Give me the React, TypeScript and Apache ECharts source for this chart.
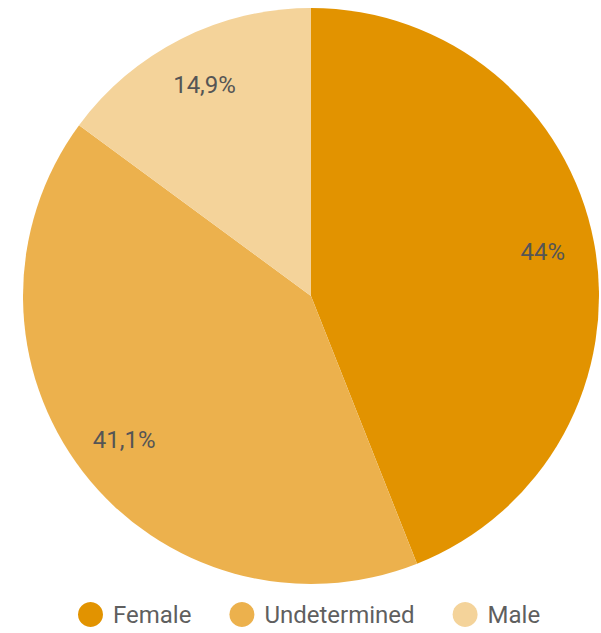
import React, { useEffect, useRef } from "react";
import * as echarts from "echarts";

const categories = ["Female", "Undetermined", "Male"];
const values = [44, 41.1, 14.9];
const colors = ["#E29300", "#ECB14D", "#F4D39A"];

export default function App() {
  const ref = useRef<HTMLDivElement>(null);
  useEffect(() => {
    const chart = echarts.init(ref.current!, null, { renderer: "svg" });
    const data = categories.map((name, i) => ({ name, value: values[i], itemStyle: { color: colors[i] } }));
    chart.setOption({
      animation: false,
      textStyle: { fontFamily: "Roboto" },
      legend: {
        data: categories,
        left: 73,
        top: 597,
        icon: "circle",
        itemWidth: 25,
        itemHeight: 25,
        itemGap: 38,
        textStyle: { fontSize: 24, color: "#5f5f5f", fontFamily: "Roboto", padding: [0, 0, 0, 5] },
      },
      series: [
        {
          type: "pie",
          center: [311, 296],
          radius: [0, 288],
          startAngle: 90,
          clockwise: true,
          label: { show: false },
          labelLine: { show: false },
          itemStyle: { borderWidth: 0 },
          emphasis: { disabled: true },
          data,
        },
        {
          type: "pie",
          center: [311, 296],
          radius: [178, 288],
          startAngle: 90,
          clockwise: true,
          silent: true,
          itemStyle: { color: "transparent", borderWidth: 0 },
          label: {
            show: true,
            position: "inside",
            fontSize: 24,
            color: "#555555",
            fontFamily: "Roboto",
            formatter: (p: any) => String(p.value).replace(".", ",") + "%",
          },
          labelLine: { show: false },
          emphasis: { disabled: true },
          data: categories.map((name, i) => ({ name, value: values[i] })),
        },
      ],
    });
    return () => chart.dispose();
  }, []);
  return <div ref={ref} style={{ position: "absolute", left: 0, top: 0, width: 601, height: 633 }} />;
}
